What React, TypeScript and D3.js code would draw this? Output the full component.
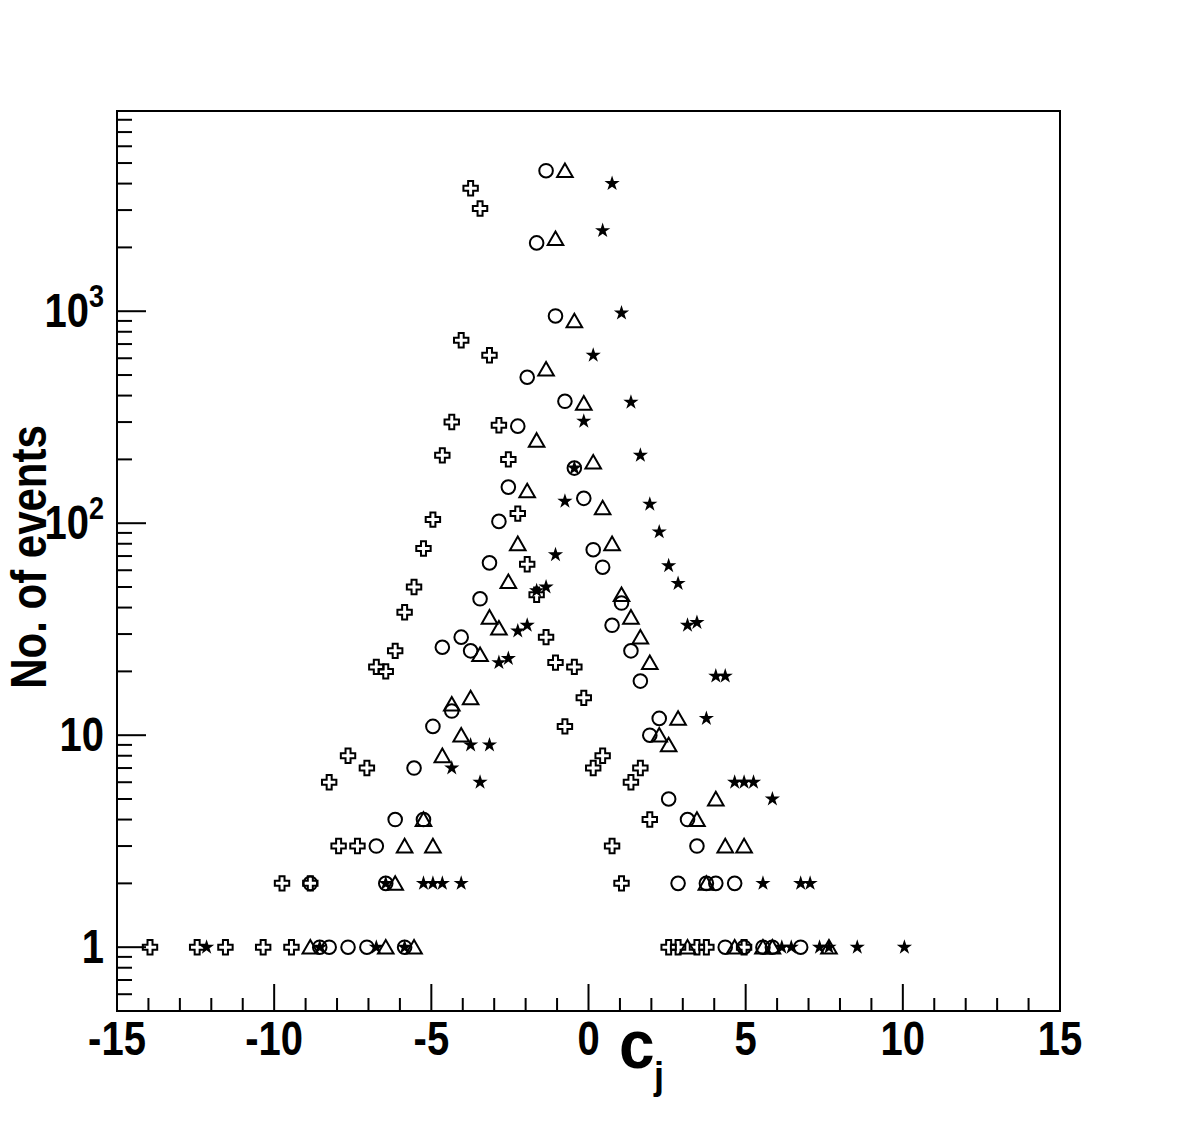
import React from 'react';
import * as d3 from 'd3';

const W = 1181;
const H = 1125;

// Series: open crosses
const crossX = [-13.95, -12.45, -11.55, -10.35, -9.75, -9.45, -8.85, -8.25, -7.95, -7.65, -7.35, -7.05, -6.75, -6.45, -6.15, -5.85, -5.55, -5.25, -4.95, -4.65, -4.35, -4.05, -3.75, -3.45, -3.15, -2.85, -2.55, -2.25, -1.95, -1.65, -1.35, -1.05, -0.75, -0.45, -0.15, 0.15, 0.45, 0.75, 1.05, 1.35, 1.65, 1.95, 2.55, 2.85, 3.45, 3.75, 4.95];
const crossY = [1, 1, 1, 1, 2, 1, 2, 6, 3, 8, 3, 7, 21, 20, 25, 38, 50, 76, 104, 209, 300, 730, 3800, 3050, 620, 290, 200, 111, 64, 46, 29, 22, 11, 21, 15, 7, 8, 3, 2, 6, 7, 4, 1, 1, 1, 1, 1];

// Series: open circles
const circleX = [-8.85, -8.55, -8.25, -7.65, -7.05, -6.75, -6.45, -6.15, -5.85, -5.55, -5.25, -4.95, -4.65, -4.35, -4.05, -3.75, -3.45, -3.15, -2.85, -2.55, -2.25, -1.95, -1.65, -1.35, -1.05, -0.75, -0.45, -0.15, 0.15, 0.45, 0.75, 1.05, 1.35, 1.65, 1.95, 2.25, 2.55, 2.85, 3.15, 3.45, 3.75, 4.05, 4.35, 4.65, 4.95, 5.55, 5.85, 6.75];
const circleY = [2, 1, 1, 1, 1, 3, 2, 4, 1, 7, 4, 11, 26, 13, 29, 25, 44, 65, 102, 148, 287, 488, 2100, 4600, 950, 376, 182, 131, 75, 62, 33, 42, 25, 18, 10, 12, 5, 2, 4, 3, 2, 2, 1, 2, 1, 1, 1, 1];

// Series: open triangles
const triX = [-8.85, -6.45, -6.15, -5.85, -5.55, -5.25, -4.95, -4.65, -4.35, -4.05, -3.75, -3.45, -3.15, -2.85, -2.55, -2.25, -1.95, -1.65, -1.35, -1.05, -0.75, -0.45, -0.15, 0.15, 0.45, 0.75, 1.05, 1.35, 1.65, 1.95, 2.25, 2.55, 2.85, 3.15, 3.45, 3.75, 4.05, 4.35, 4.65, 4.95, 5.55, 5.85, 7.65];
const triY = [1, 1, 2, 3, 1, 4, 3, 8, 14, 10, 15, 24, 36, 32, 53, 80, 142, 246, 533, 2200, 4600, 900, 368, 194, 118, 80, 46, 36, 29, 22, 10, 9, 12, 1, 4, 2, 5, 3, 1, 3, 1, 1, 1];

// Series: filled stars
const starX = [-12.15, -8.55, -6.75, -6.45, -5.85, -5.25, -4.95, -4.65, -4.35, -4.05, -3.75, -3.45, -3.15, -2.85, -2.55, -2.25, -1.95, -1.65, -1.35, -1.05, -0.75, -0.45, -0.15, 0.15, 0.45, 0.75, 1.05, 1.35, 1.65, 1.95, 2.25, 2.55, 2.85, 3.15, 3.45, 3.75, 4.05, 4.35, 4.65, 4.95, 5.25, 5.55, 5.85, 6.15, 6.45, 6.75, 7.05, 7.35, 7.65, 8.55, 10.05];
const starY = [1, 1, 1, 2, 1, 2, 2, 2, 7, 2, 9, 6, 9, 22, 23, 31, 33, 48, 50, 71, 127, 182, 303, 620, 2400, 4000, 980, 372, 209, 123, 91, 63, 52, 33, 34, 12, 19, 19, 6, 6, 6, 2, 5, 1, 1, 2, 2, 1, 1, 1, 1];

// Axis ticks
const xMajorTicks = [-15, -10, -5, 0, 5, 10, 15];
const xMinorTicks = d3.range(-15, 15.01, 1).filter((v) => v % 5 !== 0);
const yMajorTicks = [1, 10, 100, 1000];
const yTickBase = ['1', '10', '10', '10'];
const yTickExp = ['', '', '2', '3'];
const yMinorTicks = [0.5, 0.6, 0.7, 0.8, 0.9, 2, 3, 4, 5, 6, 7, 8, 9, 20, 30, 40, 50, 60, 70, 80, 90, 200, 300, 400, 500, 600, 700, 800, 900, 2000, 3000, 4000, 5000, 6000, 7000, 8000];

const FONT = "'Liberation Sans', Arial, Helvetica, sans-serif";

export default function App() {
  const x = d3.scaleLinear().domain([-15, 15]).range([117, 1060]);
  const y = d3.scaleLog().domain([0.5, 8800]).range([1011, 111]);
  const [x0, x1] = x.range();
  const [y0, y1] = y.range();

  const sw = 2;
  const s = 7.2;
  const a = 2.5;
  const crossPath = `M${-a},${-s}L${a},${-s}L${a},${-a}L${s},${-a}L${s},${a}L${a},${a}L${a},${s}L${-a},${s}L${-a},${a}L${-s},${a}L${-s},${-a}L${-a},${-a}Z`;
  const triPath = 'M0,-7.2L7.8,6.4L-7.8,6.4Z';
  const starPath = d3.symbol().type(d3.symbolStar).size(72)() as string;
  const stretch = 1.18;

  return (
    <svg
      width={W}
      height={H}
      style={{ position: 'absolute', left: 0, top: 0, background: '#fff' }}
      fontFamily={FONT}
    >
      <rect x={0} y={0} width={W} height={H} fill="#fff" />

      {/* x ticks */}
      {xMajorTicks.map((t) => (
        <line key={'xM' + t} x1={x(t)} x2={x(t)} y1={y0} y2={y0 - 27} stroke="#000" strokeWidth={2} />
      ))}
      {xMinorTicks.map((t) => (
        <line key={'xm' + t} x1={x(t)} x2={x(t)} y1={y0} y2={y0 - 13} stroke="#000" strokeWidth={2} />
      ))}
      {/* y ticks */}
      {yMajorTicks.map((t) => (
        <line key={'yM' + t} x1={x0} x2={x0 + 29} y1={y(t)} y2={y(t)} stroke="#000" strokeWidth={2} />
      ))}
      {yMinorTicks.map((t) => (
        <line key={'ym' + t} x1={x0} x2={x0 + 15} y1={y(t)} y2={y(t)} stroke="#000" strokeWidth={2} />
      ))}

      {/* frame */}
      <rect x={x0} y={y1} width={x1 - x0} height={y0 - y1} fill="none" stroke="#000" strokeWidth={2} />

      {/* x tick labels */}
      {xMajorTicks.map((t) => (
        <text
          key={'xl' + t}
          transform={`translate(${x(t)},1055) scale(1,${stretch})`}
          textAnchor="middle"
          fontSize={40}
          fontWeight="bold"
        >
          {t}
        </text>
      ))}
      {/* y tick labels */}
      {yMajorTicks.map((t, i) => (
        <text
          key={'yl' + t}
          transform={`translate(104,${y(t) + 16}) scale(1,${stretch})`}
          textAnchor="end"
          fontSize={40}
          fontWeight="bold"
        >
          {yTickBase[i]}
          {yTickExp[i] && (
            <tspan fontSize={27} dy={-17}>
              {yTickExp[i]}
            </tspan>
          )}
        </text>
      ))}

      {/* axis titles */}
      <text
        transform={`translate(46,557) rotate(-90) scale(1,${stretch})`}
        textAnchor="middle"
        fontSize={42}
        fontWeight="bold"
      >
        No. of events
      </text>
      <text transform={`translate(619,1068) scale(1,1.08)`} fontSize={64} fontWeight="bold">c</text>
      <text transform={`translate(654,1089) scale(1,1.08)`} fontSize={36} fontWeight="bold">j</text>

      {/* markers */}
      <g fill="none" stroke="#000" strokeWidth={sw}>
        {crossX.map((v, i) => (
          <path key={'c' + i} d={crossPath} transform={`translate(${x(v)},${y(crossY[i])})`} />
        ))}
        {circleX.map((v, i) => (
          <circle key={'o' + i} cx={x(v)} cy={y(circleY[i])} r={6.8} />
        ))}
        {triX.map((v, i) => (
          <path key={'t' + i} d={triPath} transform={`translate(${x(v)},${y(triY[i])})`} />
        ))}
      </g>
      <g fill="#000" stroke="none">
        {starX.map((v, i) => (
          <path key={'s' + i} d={starPath} transform={`translate(${x(v)},${y(starY[i])})`} />
        ))}
      </g>
    </svg>
  );
}
